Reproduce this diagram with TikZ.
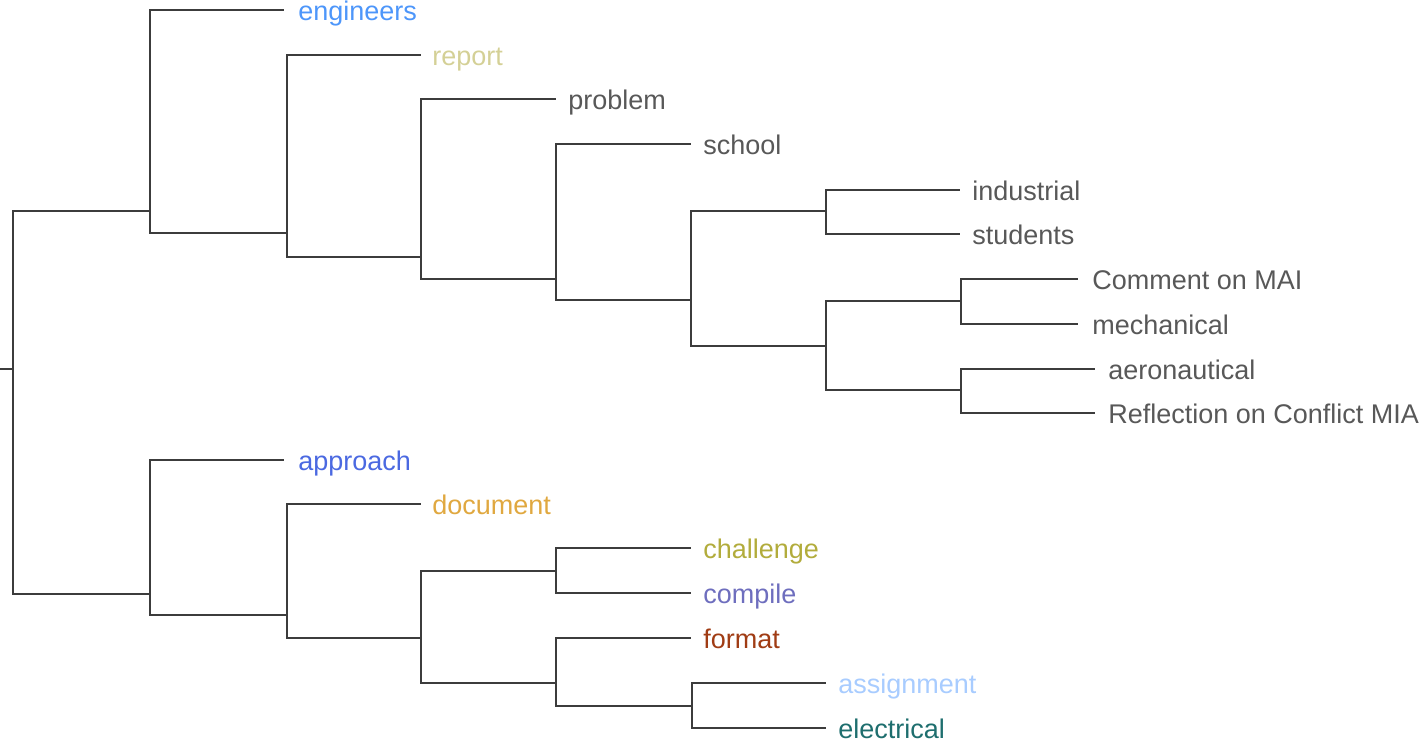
\documentclass[tikz,border=0pt]{standalone}
\usepackage{fontspec}
\setmainfont{Liberation Sans}
\definecolor{linegray}{HTML}{3C3C3C}
\definecolor{txtgray}{HTML}{585858}
\definecolor{cEngineers}{RGB}{77,150,250}
\definecolor{cReport}{RGB}{212,208,150}
\definecolor{cApproach}{RGB}{75,105,225}
\definecolor{cDocument}{RGB}{224,168,64}
\definecolor{cChallenge}{RGB}{178,172,60}
\definecolor{cCompile}{RGB}{110,110,190}
\definecolor{cFormat}{RGB}{160,60,20}
\definecolor{cAssign}{RGB}{168,204,255}
\definecolor{cElectrical}{RGB}{30,110,110}
\tikzset{
  branch/.style={draw=linegray, line width=1pt},
  leaflabel/.style={anchor=base west, inner sep=0pt, xshift=6pt, yshift=-5.5pt,
    font=\fontsize{13.5pt}{16pt}\selectfont, text=txtgray},
}
\begin{document}
\begin{tikzpicture}[x=0.5pt, y=-0.5pt]
\useasboundingbox (0,0) rectangle (1420,742);

% internal joins
\coordinate (r0) at (0,369);
\coordinate (r)  at (13,369);
\coordinate (t1) at (150,211);
\coordinate (t2) at (287,233);
\coordinate (t3) at (421,257);
\coordinate (t4) at (556,279);
\coordinate (t5) at (691,300);
\coordinate (t6) at (826,211);
\coordinate (t7) at (826,346);
\coordinate (t8) at (961,301);
\coordinate (t9) at (961,390);
\coordinate (b1) at (150,594);
\coordinate (b2) at (287,615);
\coordinate (b3) at (421,638);
\coordinate (b4) at (556,571);
\coordinate (b5) at (556,683);
\coordinate (b6) at (692,706);

% leaf ends
\coordinate (eEngineers) at (284,10);
\coordinate (eReport) at (421,55);
\coordinate (eProblem) at (556,99);
\coordinate (eSchool) at (691,144);
\coordinate (eIndustrial) at (960,190);
\coordinate (eStudents) at (960,234);
\coordinate (eComment) at (1078,279);
\coordinate (eMechanical) at (1078,324);
\coordinate (eAero) at (1095,369);
\coordinate (eReflection) at (1095,413);
\coordinate (eApproach) at (284,460);
\coordinate (eDocument) at (421,504);
\coordinate (eChallenge) at (691,548);
\coordinate (eCompile) at (691,593);
\coordinate (eFormat) at (691,638);
\coordinate (eAssign) at (826,683);
\coordinate (eElectrical) at (826,728);

% labels (extra xshift adds to the style's 6pt)
\node[leaflabel, text=cEngineers, xshift=1pt] (engineers) at (eEngineers) {engineers};
\node[leaflabel, text=cReport, xshift=-0.5pt] (report) at (eReport) {report};
\node[leaflabel] (problem) at (eProblem) {problem};
\node[leaflabel] (school) at (eSchool) {school};
\node[leaflabel] (industrial) at (eIndustrial) {industrial};
\node[leaflabel] (students) at (eStudents) {students};
\node[leaflabel, xshift=1pt] (comment) at (eComment) {Comment on MAI};
\node[leaflabel, xshift=1pt] (mechanical) at (eMechanical) {mechanical};
\node[leaflabel, xshift=0.5pt] (aero) at (eAero) {aeronautical};
\node[leaflabel, xshift=0.5pt] (reflection) at (eReflection) {Reflection on Conflict MIA};
\node[leaflabel, text=cApproach, xshift=1pt] (approach) at (eApproach) {approach};
\node[leaflabel, text=cDocument, xshift=-0.5pt] (document) at (eDocument) {document};
\node[leaflabel, text=cChallenge] (challenge) at (eChallenge) {challenge};
\node[leaflabel, text=cCompile] (compile) at (eCompile) {compile};
\node[leaflabel, text=cFormat] (format) at (eFormat) {format};
\node[leaflabel, text=cAssign] (assignment) at (eAssign) {assignment};
\node[leaflabel, text=cElectrical] (electrical) at (eElectrical) {electrical};

% branches
\draw[branch] (r0) -- (r);
\draw[branch] (r) |- (t1);
\draw[branch] (r) |- (b1);

\draw[branch] (t1) |- (eEngineers);
\draw[branch] (t1) |- (t2);
\draw[branch] (t2) |- (eReport);
\draw[branch] (t2) |- (t3);
\draw[branch] (t3) |- (eProblem);
\draw[branch] (t3) |- (t4);
\draw[branch] (t4) |- (eSchool);
\draw[branch] (t4) |- (t5);
\draw[branch] (t5) |- (t6);
\draw[branch] (t5) |- (t7);
\draw[branch] (t6) |- (eIndustrial);
\draw[branch] (t6) |- (eStudents);
\draw[branch] (t7) |- (t8);
\draw[branch] (t7) |- (t9);
\draw[branch] (t8) |- (eComment);
\draw[branch] (t8) |- (eMechanical);
\draw[branch] (t9) |- (eAero);
\draw[branch] (t9) |- (eReflection);

\draw[branch] (b1) |- (eApproach);
\draw[branch] (b1) |- (b2);
\draw[branch] (b2) |- (eDocument);
\draw[branch] (b2) |- (b3);
\draw[branch] (b3) |- (b4);
\draw[branch] (b3) |- (b5);
\draw[branch] (b4) |- (eChallenge);
\draw[branch] (b4) |- (eCompile);
\draw[branch] (b5) |- (eFormat);
\draw[branch] (b5) |- (b6);
\draw[branch] (b6) |- (eAssign);
\draw[branch] (b6) |- (eElectrical);
\end{tikzpicture}
\end{document}
